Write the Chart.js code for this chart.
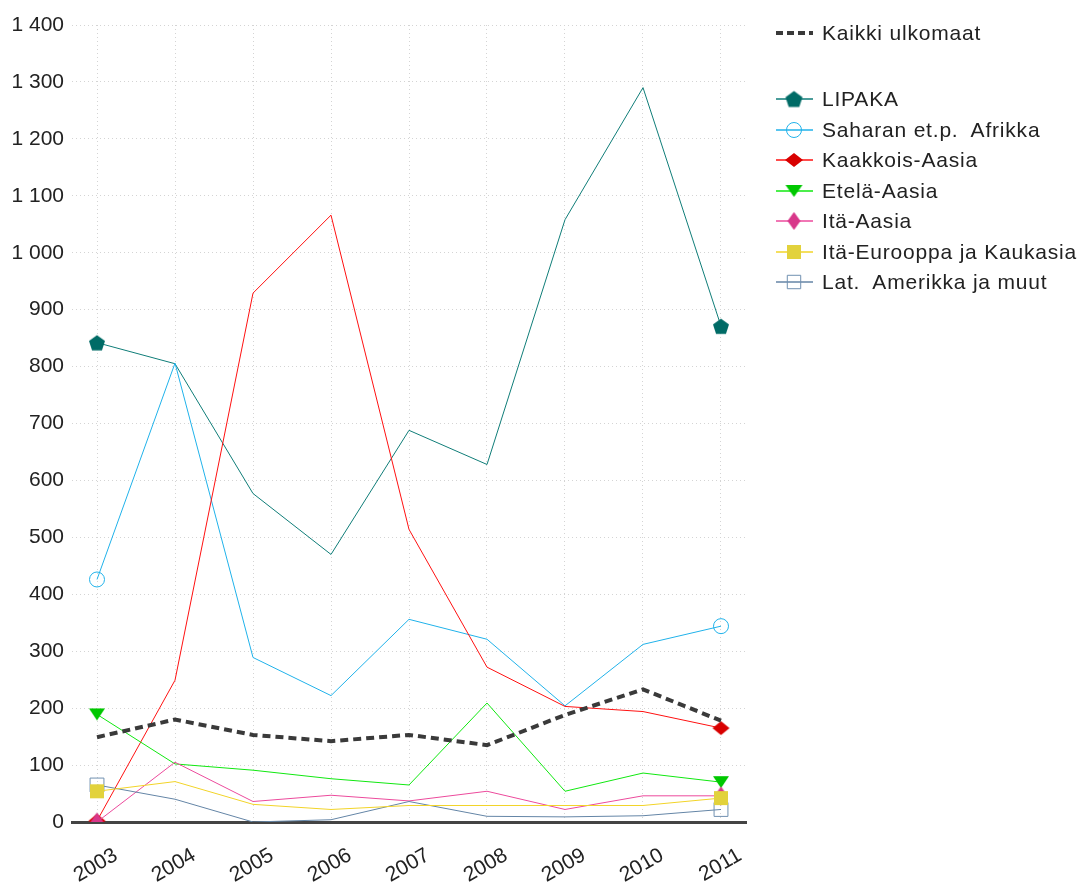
<!DOCTYPE html>
<html>
<head>
<meta charset="utf-8">
<script src="https://cdn.jsdelivr.net/npm/chart.js@4.4.0/dist/chart.umd.min.js"></script>
<style>
  body { margin: 0; background: #fff; }
  #wrap { position: relative; width: 1084px; height: 885px; }
  .row {
    position: absolute; left: 774px; height: 30px;
    display: flex; align-items: center;
    font: 21px "Liberation Sans", Arial, sans-serif;
    letter-spacing: 0.8px; color: #222; white-space: pre;
  }
  .row canvas { margin-right: 8px; }
</style>
</head>
<body>
<div id="wrap">
  <canvas id="chart"></canvas>
  <div id="legend"></div>
</div>
<script>
const years = [2003, 2004, 2005, 2006, 2007, 2008, 2009, 2010, 2011];
const yTicks = [0, 100, 200, 300, 400, 500, 600, 700, 800, 900, 1000, 1100, 1200, 1300, 1400];

const kaikki      = [149, 180, 153, 142, 153, 135, 188, 233, 178];
const lipaka      = [842, 805, 577, 470, 688, 628, 1058, 1290, 871];
const saharan     = [426, 806, 289, 222, 356, 321, 204, 312, 344];
const kaakkois    = [2, 249, 929, 1066, 514, 272, 203, 194, 165];
const etela       = [189, 102, 91, 76, 65, 209, 54, 86, 70];
const itaAasia    = [0, 105, 36, 47, 37, 54, 22, 46, 46];
const itaEurooppa = [54, 71, 31, 22, 29, 29, 29, 29, 42];
const latAmerikka = [65, 40, 0, 4, 36, 10, 9, 11, 22];

const FONT = '"Liberation Sans", Arial, sans-serif';

// marker shapes drawn onto small canvases (used as pointStyle images)
function shape(kind, w, h, color) {
  const c = document.createElement('canvas');
  c.width = Math.ceil(w) + 2;
  c.height = Math.ceil(h) + 2;
  const ctx = c.getContext('2d');
  const cx = c.width / 2, cy = c.height / 2;
  let poly;
  if (kind === 'pentagon') {
    const r = w / 2 / Math.sin(2 * Math.PI / 5);
    poly = [];
    for (let k = 0; k < 5; k++) {
      const a = -Math.PI / 2 + k * 2 * Math.PI / 5;
      poly.push([cx + r * Math.cos(a), cy + r * Math.sin(a) + r * 0.1]);
    }
  } else if (kind === 'diamond') {
    poly = [[cx, cy - h / 2], [cx + w / 2, cy], [cx, cy + h / 2], [cx - w / 2, cy]];
  } else if (kind === 'triangleDown') {
    poly = [[cx - w / 2, cy - h / 2], [cx + w / 2, cy - h / 2], [cx, cy + h / 2]];
  } else {
    poly = [[cx - w / 2, cy - h / 2], [cx + w / 2, cy - h / 2], [cx + w / 2, cy + h / 2], [cx - w / 2, cy + h / 2]];
  }
  ctx.fillStyle = color;
  ctx.beginPath();
  poly.forEach((p, i) => i ? ctx.lineTo(p[0], p[1]) : ctx.moveTo(p[0], p[1]));
  ctx.closePath();
  ctx.fill();
  return c;
}

const ends = r => years.map((y, i) => (i === 0 || i === years.length - 1) ? r : 0);
const pts = vals => years.map((y, i) => ({ x: y, y: vals[i] }));

const series = [
  { label: 'Kaikki ulkomaat', data: kaikki, color: '#3a3a3a', width: 4, dash: [8, 5], order: 0 },
  { label: 'LIPAKA', data: lipaka, color: '#0f7d78', width: 1, order: 8,
    marker: { style: shape('pentagon', 16, 16, '#006b66'), legend: shape('pentagon', 17, 17, '#006b66'), radius: 8 } },
  { label: 'Saharan et.p.  Afrikka', data: saharan, color: '#20b2ea', width: 1, order: 7,
    marker: { style: 'circle', legend: 'circle', radius: 7.5, legendRadius: 7.5, stroke: '#20b2ea', border: 1 } },
  { label: 'Kaakkois-Aasia', data: kaakkois, color: '#ff1010', width: 1, order: 6,
    marker: { style: shape('diamond', 17, 14, '#d80000'), legend: shape('diamond', 18, 14, '#d80000'), radius: 8 } },
  { label: 'Etelä-Aasia', data: etela, color: '#10e810', width: 1, order: 5,
    marker: { style: shape('triangleDown', 16, 12, '#00c800'), legend: shape('triangleDown', 17, 12, '#00c800'), radius: 8 } },
  { label: 'Itä-Aasia', data: itaAasia, color: '#ec4a9c', width: 1, order: 4,
    marker: { style: shape('diamond', 13, 19, '#d8378a'), legend: shape('diamond', 13, 18, '#d8378a'), radius: 9 } },
  { label: 'Itä-Eurooppa ja Kaukasia', data: itaEurooppa, color: '#f2d428', width: 1, order: 2,
    marker: { style: shape('square', 14, 14, '#e2d23c'), legend: shape('square', 14, 14, '#e2d23c'), radius: 7 } },
  { label: 'Lat.  Amerikka ja muut', data: latAmerikka, color: '#6485a6', width: 1, order: 3,
    marker: { style: 'rect', legend: 'rect', radius: 9.8, legendRadius: 9.5, stroke: '#7090b0', border: 1 } }
];

const datasets = series.map(s => ({
  label: s.label,
  data: pts(s.data),
  borderColor: s.color,
  borderWidth: s.width,
  borderDash: s.dash || [],
  order: s.order,
  tension: 0,
  fill: false,
  pointStyle: s.marker ? s.marker.style : 'circle',
  pointRadius: s.marker ? ends(s.marker.radius) : 0,
  pointBackgroundColor: 'rgba(0,0,0,0)',
  pointBorderColor: s.marker && s.marker.stroke ? s.marker.stroke : s.color,
  pointBorderWidth: s.marker ? (s.marker.border || 0) : 0,
  pointHoverRadius: 0
}));

function fmt(v) {
  if (v < 1000) return String(v);
  return Math.floor(v / 1000) + ' ' + String(v % 1000).padStart(3, '0');
}

new Chart(document.getElementById('chart'), {
  type: 'line',
  data: { datasets },
  options: {
    responsive: true,
    maintainAspectRatio: false,
    animation: false,
    events: [],
    layout: { padding: { top: 25, right: 338, bottom: 0, left: 0 } },
    plugins: { legend: { display: false }, tooltip: { enabled: false } },
    scales: {
      x: {
        type: 'linear',
        min: 2003 - 25 / 78,
        max: 2011 + 25 / 78,
        afterBuildTicks: axis => { axis.ticks = years.map(v => ({ value: v })); },
        afterFit: scale => { scale.height = 63; },
        grid: { color: '#d4d4d4', lineWidth: 1, drawTicks: false },
        border: { display: true, color: '#444', width: 3, dash: [1, 3] },
        ticks: {
          callback: v => String(v),
          autoSkip: false,
          minRotation: 30,
          maxRotation: 30,
          padding: 21,
          labelOffset: 19,
          color: '#222',
          font: { family: FONT, size: 21 }
        }
      },
      y: {
        min: 0,
        max: 1400,
        afterBuildTicks: axis => { axis.ticks = yTicks.map(v => ({ value: v })); },
        afterFit: scale => { scale.width = 72; },
        grid: { color: '#d4d4d4', lineWidth: 1, drawTicks: false },
        border: { display: false, dash: [1, 3] },
        ticks: {
          callback: v => fmt(v),
          padding: 8,
          color: '#222',
          font: { family: FONT, size: 21 }
        }
      }
    }
  }
});

// legend on the right, with a gap after the total line
const legend = document.getElementById('legend');
const rowCenters = [33, 99, 129.5, 160, 190.5, 221, 251.5, 282];
series.forEach((s, i) => {
  const row = document.createElement('div');
  row.className = 'row';
  row.style.top = (rowCenters[i] - 15) + 'px';
  const c = document.createElement('canvas');
  c.width = 40; c.height = 24;
  const ctx = c.getContext('2d');
  ctx.strokeStyle = s.color;
  ctx.lineWidth = s.dash ? s.width : 1.4;
  ctx.setLineDash(s.dash ? [7, 4] : []);
  ctx.beginPath();
  ctx.moveTo(2, 12);
  ctx.lineTo(39, 12);
  ctx.stroke();
  ctx.setLineDash([]);
  if (s.marker) {
    ctx.fillStyle = 'rgba(0,0,0,0)';
    ctx.strokeStyle = s.marker.stroke || s.color;
    ctx.lineWidth = s.marker.border || 0;
    Chart.helpers.drawPoint(ctx, {
      pointStyle: s.marker.legend,
      radius: s.marker.legendRadius || s.marker.radius,
      rotation: 0,
      borderWidth: s.marker.border || 0
    }, 20, 12);
  }
  row.appendChild(c);
  row.appendChild(document.createTextNode(s.label));
  legend.appendChild(row);
});
</script>
</body>
</html>
